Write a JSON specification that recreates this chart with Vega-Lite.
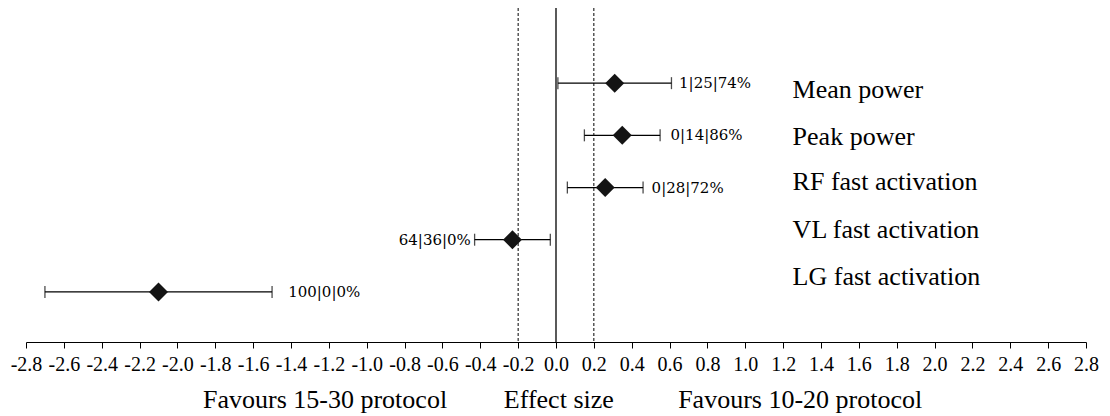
{
  "$schema": "https://vega.github.io/schema/vega-lite/v6.json",
  "width": 1060,
  "height": 334,
  "autosize": {"type": "none"},
  "padding": {"left": 26, "top": 8, "right": 24, "bottom": 74},
  "background": "white",
  "config": {
    "view": {"stroke": null},
    "axisX": {
      "title": null,
      "grid": false,
      "domainColor": "black",
      "domainWidth": 1,
      "tickColor": "black",
      "tickSize": 6,
      "tickWidth": 1,
      "labelColor": "black",
      "labelFont": "Liberation Serif",
      "labelFontSize": 20,
      "labelPadding": 6,
      "labelFlush": false,
      "labelOverlap": false
    }
  },
  "datasets": {
    "effects": [
      {"outcome": "Mean power", "row": 1, "es": 0.31, "lower": 0.01, "upper": 0.61, "chances": "1|25|74%", "side": "right", "labelX": 0.65},
      {"outcome": "Peak power", "row": 2, "es": 0.35, "lower": 0.15, "upper": 0.55, "chances": "0|14|86%", "side": "right", "labelX": 0.605},
      {"outcome": "RF fast activation", "row": 3, "es": 0.26, "lower": 0.06, "upper": 0.46, "chances": "0|28|72%", "side": "right", "labelX": 0.505},
      {"outcome": "VL fast activation", "row": 4, "es": -0.23, "lower": -0.43, "upper": -0.03, "chances": "64|36|0%", "side": "left", "labelX": -0.45},
      {"outcome": "LG fast activation", "row": 5, "es": -2.10, "lower": -2.70, "upper": -1.50, "chances": "100|0|0%", "side": "right", "labelX": -1.415}
    ],
    "names": [
      {"outcome": "Mean power", "pos": 1.13},
      {"outcome": "Peak power", "pos": 2.03},
      {"outcome": "RF  fast activation", "pos": 2.9},
      {"outcome": "VL  fast activation", "pos": 3.82},
      {"outcome": "LG  fast activation", "pos": 4.72}
    ],
    "refs": [
      {"x": -0.2, "kind": "dashed"},
      {"x": 0, "kind": "solid"},
      {"x": 0.2, "kind": "dashed"}
    ],
    "notes": [
      {"text": "Favours 15-30 protocol", "x": -1.22, "pos": 7.07},
      {"text": "Effect size", "x": 0.015, "pos": 7.07},
      {"text": "Favours 10-20 protocol", "x": 1.29, "pos": 7.07}
    ]
  },
  "layer": [
    {
      "data": {"name": "refs"},
      "transform": [{"filter": "datum.kind === 'dashed'"}],
      "mark": {"type": "rule", "color": "black", "strokeWidth": 1, "strokeDash": [3, 2]},
      "encoding": {
        "x": {
          "field": "x", "type": "quantitative",
          "scale": {"domain": [-2.8, 2.8], "nice": false, "zero": false},
          "axis": {
            "values": [-2.8, -2.6, -2.4, -2.2, -2.0, -1.8, -1.6, -1.4, -1.2, -1.0, -0.8, -0.6, -0.4, -0.2, 0.0, 0.2, 0.4, 0.6, 0.8, 1.0, 1.2, 1.4, 1.6, 1.8, 2.0, 2.2, 2.4, 2.6, 2.8],
            "tickCount": 60,
            "labelExpr": "datum.value < -0.001 ? '-' + format(abs(datum.value), '.1f') : format(abs(datum.value), '.1f')"
          }
        }
      }
    },
    {
      "data": {"name": "refs"},
      "transform": [{"filter": "datum.kind === 'solid'"}],
      "mark": {"type": "rule", "color": "black", "strokeWidth": 1.3},
      "encoding": {"x": {"field": "x", "type": "quantitative"}}
    },
    {
      "data": {"name": "effects"},
      "mark": {"type": "rule", "color": "black", "strokeWidth": 1.3},
      "encoding": {
        "x": {"field": "lower", "type": "quantitative"},
        "x2": {"field": "upper"},
        "y": {"field": "row", "type": "quantitative", "scale": {"domain": [-0.44, 5.96], "reverse": true, "nice": false, "zero": false}, "axis": null}
      }
    },
    {
      "data": {"name": "effects"},
      "transform": [{"fold": ["lower", "upper"], "as": ["bound", "value"]}],
      "mark": {"type": "tick", "orient": "vertical", "color": "black", "size": 12, "thickness": 1.3},
      "encoding": {
        "x": {"field": "value", "type": "quantitative"},
        "y": {"field": "row", "type": "quantitative"}
      }
    },
    {
      "data": {"name": "effects"},
      "mark": {"type": "point", "shape": "diamond", "filled": true, "color": "#141414", "opacity": 1, "size": 360},
      "encoding": {
        "x": {"field": "es", "type": "quantitative"},
        "y": {"field": "row", "type": "quantitative"}
      }
    },
    {
      "data": {"name": "effects"},
      "transform": [{"filter": "datum.side === 'right'"}],
      "mark": {"type": "text", "align": "left", "baseline": "middle", "font": "DejaVu Serif", "fontSize": 15, "color": "black"},
      "encoding": {
        "x": {"field": "labelX", "type": "quantitative"},
        "y": {"field": "row", "type": "quantitative"},
        "text": {"field": "chances"}
      }
    },
    {
      "data": {"name": "effects"},
      "transform": [{"filter": "datum.side === 'left'"}],
      "mark": {"type": "text", "align": "right", "baseline": "middle", "font": "DejaVu Serif", "fontSize": 15, "color": "black"},
      "encoding": {
        "x": {"field": "labelX", "type": "quantitative"},
        "y": {"field": "row", "type": "quantitative"},
        "text": {"field": "chances"}
      }
    },
    {
      "data": {"name": "names"},
      "mark": {"type": "text", "align": "left", "baseline": "middle", "font": "Liberation Serif", "fontSize": 26, "color": "black"},
      "encoding": {
        "x": {"datum": 1.25},
        "y": {"field": "pos", "type": "quantitative"},
        "text": {"field": "outcome"}
      }
    },
    {
      "data": {"name": "notes"},
      "mark": {"type": "text", "align": "center", "baseline": "middle", "font": "Liberation Serif", "fontSize": 26, "color": "black"},
      "encoding": {
        "x": {"field": "x", "type": "quantitative"},
        "y": {"field": "pos", "type": "quantitative"},
        "text": {"field": "text"}
      }
    }
  ]
}
